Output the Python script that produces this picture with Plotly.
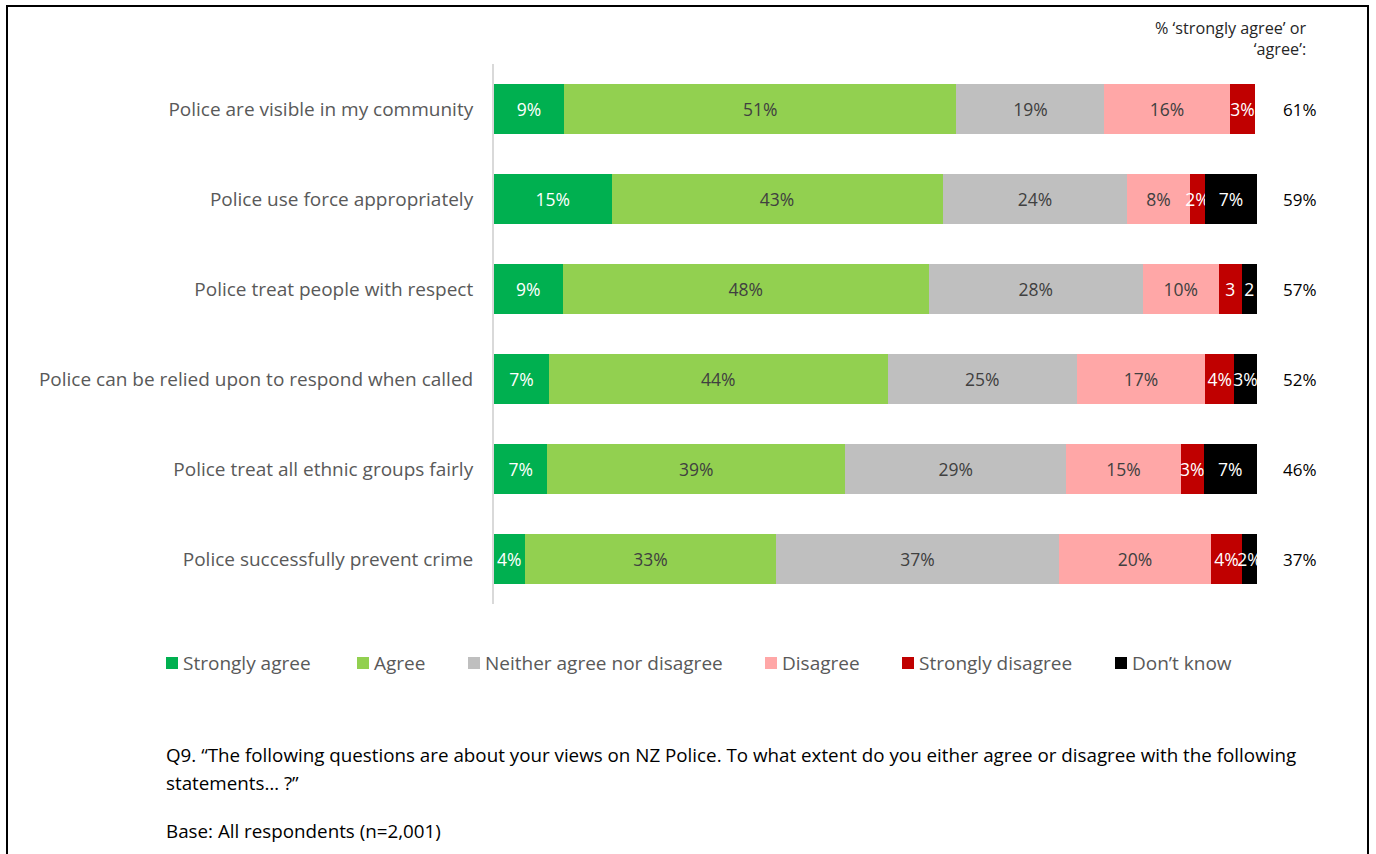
import plotly.graph_objects as go

# Survey statements (top to bottom) and response categories
STATEMENTS = [
    "Police are visible in my community",
    "Police use force appropriately",
    "Police treat people with respect",
    "Police can be relied upon to respond when called",
    "Police treat all ethnic groups fairly",
    "Police successfully prevent crime",
]
RESPONSES = ["Strongly agree", "Agree", "Neither agree nor disagree",
             "Disagree", "Strongly disagree", "Don\u2019t know"]
COLORS = ["#00B050", "#92D050", "#BFBFBF", "#FFA7A7", "#C00000", "#000000"]
TEXT_COLORS = ["#FFFFFF", "#404040", "#404040", "#404040", "#FFFFFF", "#FFFFFF"]

# Percentages per response, one value per statement
strongly_agree = [9.2, 15.4, 9, 7.2, 7, 4]
agree = [51.4, 43.4, 48, 44.4, 39, 33]
neither = [19.4, 24.2, 28, 24.8, 29, 37]
disagree = [16.4, 8.2, 10, 16.8, 15, 20]
strongly_disagree = [3.4, 2.0, 3, 3.8, 3, 4]
dont_know = [0, 6.8, 2, 3.0, 7, 2]
SERIES = [strongly_agree, agree, neither, disagree, strongly_disagree, dont_know]

# Narrow segments labelled without the % sign
NO_SIGN = {("Police treat people with respect", "Strongly disagree"),
           ("Police treat people with respect", "Don\u2019t know")}

HEADER = "% \u2018strongly agree\u2019 or<br>\u2018agree\u2019:"
QUESTION_1 = ("Q9. \u201cThe following questions are about your views on NZ Police. "
              "To what extent do you either agree or disagree with the following")
QUESTION_2 = "statements\u2026 ?\u201d"
BASE_NOTE = "Base: All respondents (n=2,001)"

FONT = "Open Sans"
W, H = 1376, 854
L, R, T, B = 494, 1257, 64, 604  # plot area in pixels


def px_x(p):
    return (p - L) / (R - L)


def px_y(p):
    return (B - p) / (B - T)


def label(stmt, resp, v):
    if v <= 0:
        return ""
    s = f"{round(v)}"
    return s if (stmt, resp) in NO_SIGN else s + "%"


fig = go.Figure()
for resp, vals, col, tcol in zip(RESPONSES, SERIES, COLORS, TEXT_COLORS):
    fig.add_trace(go.Bar(
        name=resp, y=STATEMENTS, x=vals, orientation="h",
        marker=dict(color=col, line=dict(width=0)),
        text=[label(s, resp, v) for s, v in zip(STATEMENTS, vals)],
        textposition="inside", insidetextanchor="middle", textangle=0,
        textfont=dict(family=FONT, size=17.5, color=tcol),
        cliponaxis=False, hoverinfo="skip",
    ))

annotations = []
# Net agree column
for stmt, sa, a in zip(STATEMENTS, strongly_agree, agree):
    annotations.append(dict(
        x=px_x(1300), xref="paper", y=stmt, yref="y", xanchor="center",
        text=f"{round(sa + a)}%", showarrow=False,
        font=dict(family=FONT, size=17, color="#000000")))
annotations.append(dict(
    x=px_x(1309), xref="paper", y=px_y(38), yref="paper", xanchor="right", yanchor="middle",
    text=HEADER, align="right", showarrow=False,
    font=dict(family=FONT, size=16.2, color="#262626")))

# Legend row
shapes = []
legend_x = [166, 357, 468, 765, 902, 1115]
for resp, col, lx in zip(RESPONSES, COLORS, legend_x):
    shapes.append(dict(type="rect", xref="paper", yref="paper",
                       x0=px_x(lx), x1=px_x(lx + 12), y0=px_y(669), y1=px_y(657),
                       fillcolor=col, line=dict(width=0)))
    annotations.append(dict(
        x=px_x(lx + 15), xref="paper", y=px_y(663), yref="paper",
        xanchor="left", yanchor="middle", text=resp, showarrow=False,
        font=dict(family=FONT, size=19, color="#595959")))

# Question text and base
for txt, yy in [(QUESTION_1, 755), (QUESTION_2, 783), (BASE_NOTE, 831)]:
    annotations.append(dict(
        x=px_x(164), xref="paper", y=px_y(yy), yref="paper",
        xanchor="left", yanchor="middle", text=txt, showarrow=False,
        font=dict(family=FONT, size=18.8, color="#000000")))

# Outer frame
shapes.append(dict(type="rect", xref="paper", yref="paper",
                   x0=px_x(7), x1=px_x(1368), y0=px_y(880), y1=px_y(6),
                   line=dict(color="#000000", width=2), fillcolor="rgba(0,0,0,0)"))

fig.update_layout(
    width=W, height=H, autosize=False,
    margin=dict(l=L, r=W - R, t=T, b=H - B, pad=0),
    paper_bgcolor="#FFFFFF", plot_bgcolor="#FFFFFF",
    barmode="stack", bargap=0.444, showlegend=False,
    uniformtext=dict(mode="show", minsize=17.5),
    xaxis=dict(range=[0, 100], visible=False, fixedrange=True),
    yaxis=dict(autorange="reversed", showline=True, linecolor="#D9D9D9", linewidth=2,
               ticks="", showgrid=False, zeroline=False, ticklabelstandoff=15,
               tickfont=dict(family=FONT, size=19, color="#595959"), fixedrange=True),
    annotations=annotations, shapes=shapes,
)

fig.write_html("out.html", config={"displayModeBar": False})
